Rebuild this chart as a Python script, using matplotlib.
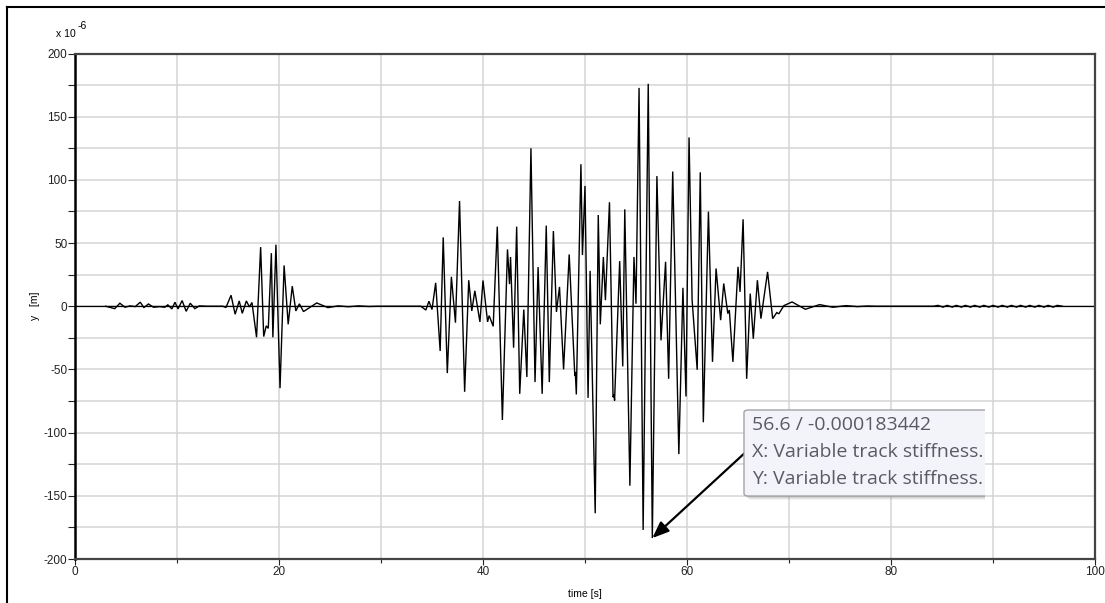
import matplotlib
matplotlib.use("Agg")
import matplotlib.pyplot as plt
from matplotlib.patches import FancyBboxPatch, Rectangle
from matplotlib.lines import Line2D
from matplotlib.ticker import MultipleLocator

# ---- displacement history y(t) in micrometres (turning points of the trace) ----
time_s = [
    3.0, 3.9, 4.4, 4.9, 5.4, 5.9, 6.4, 6.75, 7.2, 7.7, 8.3, 8.8, 9.1, 9.5, 9.8,
    10.1, 10.5, 10.9, 11.3, 11.75, 12.2, 12.9,
    14.5, 14.8, 15.3, 15.7, 16.1, 16.4, 16.8, 17.1, 17.35, 17.8, 18.2, 18.5,
    18.75, 18.95, 19.25, 19.4, 19.7, 20.1, 20.5, 20.9, 21.3, 21.65, 22.0, 22.4,
    23.7, 24.8, 25.8, 26.8, 27.8, 28.8, 29.6,
    33.9, 34.4, 34.7, 35.0, 35.36, 35.8, 36.1, 36.5, 36.9, 37.3, 37.7, 38.2,
    38.6, 38.9, 39.2, 39.7, 40.0, 40.45, 40.6, 41.0, 41.4, 41.9, 42.4, 42.6,
    42.7, 43.0, 43.3, 43.6, 44.0, 44.3, 44.7, 45.1, 45.4, 45.8, 46.2, 46.5,
    46.9, 47.2, 47.5, 47.9, 48.45, 49.0, 49.05, 49.15, 49.6, 49.75, 50.0, 50.3,
    50.5, 51.0, 51.3, 51.5, 51.8, 52.0, 52.4, 52.75, 52.85, 52.9, 53.4, 53.7,
    53.9, 54.4, 54.8, 55.0, 55.3, 55.7, 56.2, 56.6, 57.05, 57.45, 57.9, 58.2,
    58.6, 59.2, 59.6, 59.9, 60.2, 60.5, 61.0, 61.3, 61.6, 62.1, 62.5, 62.85,
    63.3, 63.6, 64.0, 64.15, 64.5, 65.0, 65.2, 65.5, 65.85, 66.2, 66.5, 66.9,
    67.25, 67.9, 68.4, 68.8, 69.0, 69.5, 70.3, 71.6, 73.0, 74.3, 75.6, 76.7,
    77.7, 78.5,
    84.2, 84.6, 85.1, 85.5, 86.0, 86.4, 86.9, 87.3, 87.8, 88.2, 88.7, 89.1,
    89.6, 90.0, 90.5, 90.9, 91.4, 91.8, 92.3, 92.7, 93.2, 93.6, 94.1, 94.5,
    95.0, 95.4, 95.9, 96.3, 96.8,
]
y_um = [
    0, -1.9, 2.4, -0.8, 0.3, -0.3, 3.2, -1.1, 1.8, -0.8, -0.3, -0.8, 1.1, -2.1, 3.2,
    -2.1, 4.5, -4.0, 2.4, -1.9, 0.3, 0,
    0, -1.0, 8.7, -6.3, 4.2, -5.6, 4.2, -0.5, 3.0, -24.6, 46.8, -24.0,
    -15.5, -17.5, 42.0, -24.6, 48.7, -64.8, 32.3, -14.3, 15.9, -3.7, 1.9, -4.2,
    2.6, -1.1, 0.3, -0.4, 0.3, -0.2, 0,
    0, -3.0, 4.0, -2.6, 18.5, -35.4, 54.5, -52.9, 23.3, -13.0, 83.3, -67.7,
    20.6, -3.7, 12.2, -12.4, 20.4, -12.4, -7.4, -15.9, 63.0, -90.0, 45.0, 17.5,
    39.0, -32.8, 63.0, -69.3, -2.6, -56.0, 125.0, -60.0, 31.0, -69.3, 63.8, -60.0,
    59.5, -4.5, 15.3, -50.0, 41.0, -54.8, -52.0, -69.8, 112.4, 40.5, 95.2, -72.5,
    28.0, -163.8, 72.2, -14.3, 39.0, 4.8, 82.3, -72.0, -70.0, -74.6, 35.7, -47.6,
    76.7, -142.0, 39.0, 2.0, 172.8, -177.0, 176.0, -183.442, 103.0, -27.0, 35.2, -57.4,
    106.6, -117.0, 14.6, -71.4, 133.6, 5.0, -50.3, 106.0, -91.8, 74.9, -44.0, 29.9,
    -11.0, 18.0, -5.8, -3.0, -44.0, 31.2, 11.4, 68.8, -57.4, 10.0, -25.7, 20.6,
    -9.8, 27.2, -9.8, -5.0, -6.0, 0.5, 3.4, -2.4, 1.3, -0.8, 0.5, -0.3,
    0.2, 0,
    0, 0.7, -0.7, 0.7, -0.7, 0.7, -0.7, 0.7, -0.7, 0.7, -0.7, 0.7,
    -0.7, 0.7, -0.7, 0.7, -0.7, 0.7, -0.7, 0.7, -0.7, 0.7, -0.7, 0.7,
    -0.7, 0.7, -0.7, 0.7, 0,
]

# selected sample shown in the data tip
tip_time = 56.6
tip_value_m = -0.000183442
tip_lines = ["56.6 / -0.000183442",
             "X: Variable track stiffness.",
             "Y: Variable track stiffness."]

x_ticks = [0, 20, 40, 60, 80, 100]
y_ticks = [-200, -150, -100, -50, 0, 50, 100, 150, 200]

W, H = 1105, 603
fig = plt.figure(figsize=(W / 100, H / 100), dpi=100)
fig.patch.set_facecolor("white")


def fx(px):
    return px / W


def fy(py):
    return 1 - py / H


ax = fig.add_axes([fx(75), fy(559), fx(1095) - fx(75), fy(53.5) - fy(559)])
ax.set_xlim(0, 100)
ax.set_ylim(-200, 200)

# grid every 10 s and every 25 units
ax.xaxis.set_major_locator(MultipleLocator(20))
ax.xaxis.set_minor_locator(MultipleLocator(10))
ax.yaxis.set_major_locator(MultipleLocator(50))
ax.yaxis.set_minor_locator(MultipleLocator(25))
ax.set_xticks(x_ticks)
ax.set_yticks(y_ticks)
ax.grid(True, which="both", color="#d4d4d4", linewidth=1.1, zorder=0)
ax.set_axisbelow(True)

tick_font = dict(family="Liberation Sans", size=8.5)
ax.set_xticklabels([str(v) for v in x_ticks], **tick_font)
ax.set_yticklabels([str(v) for v in y_ticks], **tick_font)
ax.tick_params(axis="y", which="major", direction="out", length=5, width=0.8,
               pad=0.5, colors="#222222")
ax.tick_params(axis="y", which="minor", direction="out", length=5, width=0.8,
               colors="#222222")
ax.tick_params(axis="x", which="major", direction="out", length=4, width=0.8,
               pad=1, colors="#222222")
ax.tick_params(axis="x", which="minor", direction="out", length=3, width=0.8,
               colors="#222222")

for side in ("top", "bottom", "right"):
    ax.spines[side].set_color("#444444")
    ax.spines[side].set_linewidth(1.6)
ax.spines["left"].set_color("black")
ax.spines["left"].set_linewidth(1.8)

# zero reference line
ax.axhline(0, color="black", linewidth=0.9, zorder=2)

# displacement trace
ax.plot(time_s, y_um, color="black", linewidth=1.0, zorder=3,
        solid_joinstyle="miter")

# axis labels and exponent
fig.text(fx(35), fy(306), "y   [m]", rotation=90, ha="center", va="center",
         family="Liberation Sans", size=7.5)
fig.text(fx(585), fy(594), "time [s]", ha="center", va="center",
         family="Liberation Sans", size=7.5)
fig.text(fx(56), fy(34), "x 10", ha="left", va="center",
         family="Liberation Sans", size=7.5)
fig.text(fx(78), fy(26), "-6", ha="left", va="center",
         family="Liberation Sans", size=7.5)

# outer frame lines
fig.add_artist(Line2D([fx(7), fx(7)], [fy(7), fy(603)], transform=fig.transFigure,
                      color="black", linewidth=1.5))
fig.add_artist(Line2D([fx(7), fx(1105)], [fy(7), fy(7)], transform=fig.transFigure,
                      color="black", linewidth=1.5))

# data tip box (cut at the right edge of the plot window)
clip = Rectangle((fx(700), fy(520)), fx(985) - fx(700), fy(400) - fy(520),
                 transform=fig.transFigure, visible=False)
fig.add_artist(clip)
bx0, by0, bx1, by1 = 744, 410, 1000, 496
for off, a in ((4, 0.10), (3, 0.12), (2, 0.16)):
    sh = FancyBboxPatch((fx(bx0 + off), fy(by1 + off)), fx(bx1) - fx(bx0),
                        fy(by0) - fy(by1),
                        boxstyle="round,pad=0,rounding_size=0.004",
                        transform=fig.transFigure, facecolor="#808080",
                        edgecolor="none", alpha=a, zorder=9)
    fig.add_artist(sh)
    sh.set_clip_path(clip)
box = FancyBboxPatch((fx(bx0), fy(by1)), fx(bx1) - fx(bx0), fy(by0) - fy(by1),
                     boxstyle="round,pad=0,rounding_size=0.004",
                     transform=fig.transFigure, facecolor="#f3f4fa",
                     edgecolor="#a3a3a8", linewidth=1.0, zorder=10)
fig.add_artist(box)
box.set_clip_path(clip)
for i, line in enumerate(tip_lines):
    t = fig.text(fx(752), fy(425 + 27 * i), line, ha="left", va="center",
                 family="Open Sans", size=14, color="#5a5a64", zorder=11)
    t.set_clip_path(clip)

# arrow from the data tip to the selected sample
ax.annotate("", xy=(tip_time, tip_value_m * 1e6), xycoords="data",
            xytext=(fx(748), fy(450)), textcoords="figure fraction",
            arrowprops=dict(arrowstyle="-|>,head_length=1.0,head_width=0.4",
                            color="black", linewidth=1.6, shrinkA=0, shrinkB=0),
            zorder=12, annotation_clip=False)

fig.savefig("out.png", dpi=100)
